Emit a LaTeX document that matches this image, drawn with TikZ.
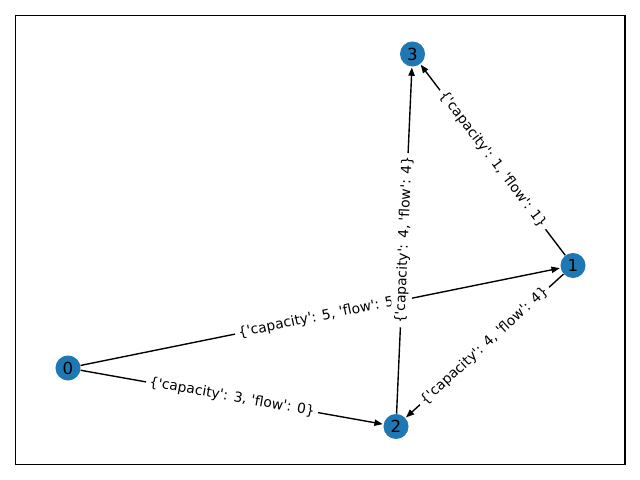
\documentclass[tikz,border=0pt]{standalone}
\usepackage{fontspec}
\setmainfont{DejaVu Sans}[Ligatures=TeXOff]
\usetikzlibrary{arrows.meta,calc}
\definecolor{nxblue}{HTML}{1F78B4}
\newcommand\elab[2]{\{'capacity': #1, 'flow': #2\}}
\begin{document}
\begin{tikzpicture}[x=0.01in,y=-0.01in,
  vert/.style={circle,fill=nxblue,minimum size=25\pgflinewidth,inner sep=0pt,font=\fontsize{12}{14}\selectfont},
  edgearrow/.style={line width=1pt,-{Triangle[length=6pt,width=4.5pt]},shorten >=0.5pt},
  elabel/.style={fill=white,rounded corners=3pt,inner sep=2.5pt,font=\fontsize{10}{12}\selectfont}]
\useasboundingbox (0,0) rectangle (640,480);
\draw[line width=0.8pt] (15.5,15.5) rectangle (625,464.5);
\node[vert,minimum size=0.25in] (n0) at (68,368) {0};
\node[vert,minimum size=0.25in] (n1) at (573,265.5) {1};
\node[vert,minimum size=0.25in] (n2) at (396,426.5) {2};
\node[vert,minimum size=0.25in] (n3) at (412.5,54) {3};
\draw[edgearrow] (n0) -- (n1);
\draw[edgearrow] (n0) -- (n2);
\draw[edgearrow] (n1) -- (n3);
\draw[edgearrow] (n1) -- (n2);
\draw[edgearrow] (n2) -- (n3);
\node[elabel,rotate=11.5] (l01) at ($(n0)!0.5!(n1)$) {\elab{5}{5}};
\node[elabel,rotate=-10.0] (l02) at ($(n0)!0.5!(n2)$) {\elab{3}{0}};
\node[elabel,rotate=-52.8] (l13) at ($(n1)!0.5!(n3)$) {\elab{1}{1}};
\node[elabel,rotate=42.5] (l12) at ($(n1)!0.5!(n2)$) {\elab{4}{4}};
\node[elabel,rotate=87.5] (l23) at ($(n2)!0.5!(n3)$) {\elab{4}{4}};
\end{tikzpicture}
\end{document}
